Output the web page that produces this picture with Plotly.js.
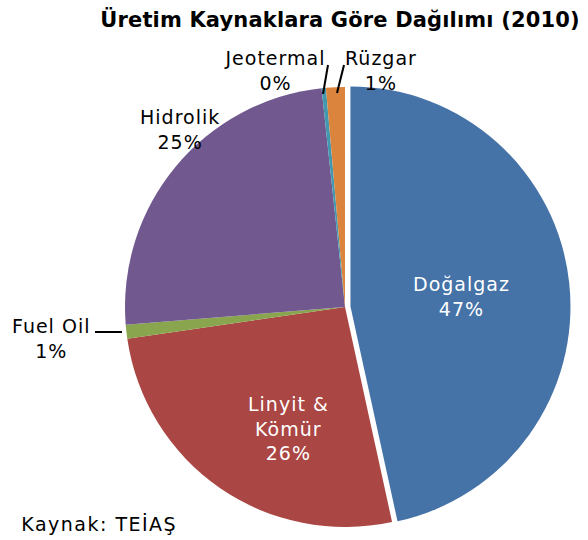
<!DOCTYPE html>
<html>
<head>
<meta charset="utf-8">
<script src="https://cdn.plot.ly/plotly-3.0.1.min.js"></script>
<style>
html,body{margin:0;padding:0;background:#fff;}
#chart{width:588px;height:540px;}
#chart .annotation-text{letter-spacing:1px;}
#chart .annotation:last-of-type .annotation-text{letter-spacing:1.5px;}
#chart .gtitle{letter-spacing:0.15px;}
</style>
</head>
<body>
<div id="chart"></div>
<script>
// Data (GWh, 2010)
const labels = ["Doğalgaz", "Linyit & Kömür", "Fuel Oil", "Hidrolik", "Jeotermal", "Rüzgar"];
const values = [98144, 55046, 2180, 51796, 668, 2916];
const colors = ["#4572A7", "#AA4643", "#89A54E", "#71588F", "#4198AF", "#DB843D"];
const pulls = [0.025, 0, 0, 0, 0, 0];
const labelText = ["Doğalgaz", "Linyit &<br>Kömür", "Fuel Oil", "Hidrolik", "Jeotermal", "Rüzgar"];

const W = 588, H = 540;
const total = values.reduce((a, b) => a + b, 0);
const pct = values.map(v => Math.round(v / total * 100) + "%");

const FONT = "DejaVu Sans, Verdana, sans-serif";
const px = x => x / W;
const py = y => 1 - y / H;

// label placements (pixel positions of label centres)
const labelPos = [
  {x: 461, y: 296, color: "#ffffff"},
  {x: 288, y: 428, color: "#ffffff"},
  {x: 51, y: 338, color: "#000000"},
  {x: 180, y: 129, color: "#000000"},
  {x: 275, y: 70, color: "#000000"},
  {x: 381, y: 70, color: "#000000"}
];

const annotations = labels.map((l, i) => ({
  xref: "paper", yref: "paper",
  x: px(labelPos[i].x), y: py(labelPos[i].y),
  xanchor: "center", yanchor: "middle",
  text: labelText[i] + "<br>" + pct[i],
  showarrow: false,
  font: {family: FONT, size: 19, color: labelPos[i].color}
}));
annotations.push({
  xref: "paper", yref: "paper",
  x: px(29), y: py(524), xanchor: "left", yanchor: "middle",
  text: "Kaynak: TEİAŞ", showarrow: false,
  font: {family: FONT, size: 19, color: "#000000"}
});

// leader lines
const leader = (x0, y0, x1, y1) => ({
  type: "line", xref: "paper", yref: "paper",
  x0: px(x0), y0: py(y0), x1: px(x1), y1: py(y1),
  line: {color: "#000000", width: 2}
});
const shapes = [
  leader(95, 332, 122, 332),
  leader(328, 65, 323, 94),
  leader(344, 65, 337, 93)
];

const r = 220, cx = 345, cy = 307;
const half = r * (1 + Math.max(...pulls));
const trace = {
  type: "pie",
  labels: labels,
  values: values,
  sort: false,
  direction: "clockwise",
  rotation: 0,
  pull: pulls,
  marker: {colors: colors, line: {width: 0}},
  textinfo: "none",
  hoverinfo: "label+percent",
  showlegend: false,
  domain: {x: [px(cx - half), px(cx + half)], y: [py(cy + half), py(cy - half)]}
};

const layout = {
  width: W, height: H,
  margin: {l: 0, r: 0, t: 0, b: 0},
  paper_bgcolor: "#ffffff",
  plot_bgcolor: "#ffffff",
  showlegend: false,
  title: {
    text: "<b>Üretim Kaynaklara Göre Dağılımı (2010)</b>",
    x: px(340), xanchor: "center", y: py(20), yanchor: "middle",
    xref: "paper", yref: "paper",
    font: {family: FONT, size: 21, color: "#000000"}
  },
  annotations: annotations,
  shapes: shapes
};

Plotly.newPlot("chart", [trace], layout, {displayModeBar: false, staticPlot: true});
</script>
</body>
</html>
